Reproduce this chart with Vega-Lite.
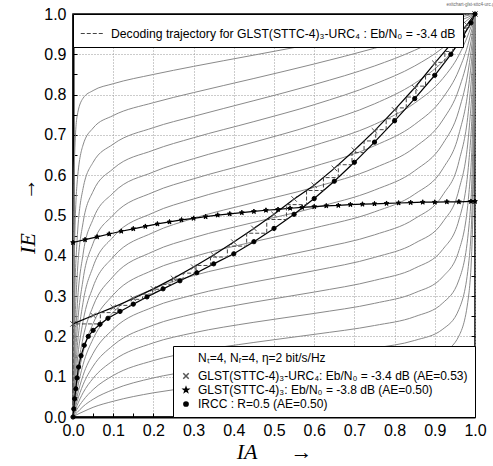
{
"$schema":"https://vega.github.io/schema/vega-lite/v6.json",
"width":402,"height":403,
"autosize":{"type":"none"},
"padding":{"left":73,"top":14,"right":18,"bottom":49},
"background":"white",
"title":{"text":"exitchart-glst-sttc4-urc.gle","fontSize":4.5,"color":"#666","anchor":"end","offset":0,"dx":12,"font":"Liberation Sans","fontWeight":"normal"},
"config":{
 "view":{"stroke":"black","strokeWidth":1.5},
 "axis":{"labelFont":"Liberation Sans","labelFontSize":16,"labelColor":"black","tickColor":"black","domainColor":"black","titleFont":"Liberation Serif","titleFontStyle":"italic","titleFontWeight":"normal","titleFontSize":22,"titleColor":"black"},
 "legend":{"labelFont":"Liberation Sans","titleFont":"Liberation Sans","labelColor":"black","titleColor":"black"}
},
"resolve":{"axis":{"x":"independent","y":"independent"}},
"datasets":{
"sub":[
{"c":1,"x":0,"y":0},{"c":1,"x":0.003,"y":0.614},{"c":1,"x":0.01,"y":0.745},{"c":1,"x":0.025,"y":0.791},{"c":1,"x":0.05,"y":0.81},{"c":1,"x":0.1,"y":0.827},{"c":1,"x":0.2,"y":0.85},{"c":1,"x":0.3,"y":0.87},{"c":1,"x":0.45,"y":0.898},{"c":1,"x":0.6,"y":0.926},{"c":1,"x":0.75,"y":0.953},{"c":1,"x":0.85,"y":0.972},{"c":1,"x":0.92,"y":0.985},{"c":1,"x":0.96,"y":0.992},{"c":1,"x":0.985,"y":0.997},{"c":1,"x":0.995,"y":0.999},{"c":1,"x":1,"y":1},
{"c":2,"x":0,"y":0},{"c":2,"x":0.003,"y":0.375},{"c":2,"x":0.01,"y":0.578},{"c":2,"x":0.025,"y":0.675},{"c":2,"x":0.05,"y":0.717},{"c":2,"x":0.1,"y":0.748},{"c":2,"x":0.2,"y":0.78},{"c":2,"x":0.3,"y":0.805},{"c":2,"x":0.45,"y":0.84},{"c":2,"x":0.6,"y":0.876},{"c":2,"x":0.75,"y":0.915},{"c":2,"x":0.85,"y":0.944},{"c":2,"x":0.92,"y":0.967},{"c":2,"x":0.96,"y":0.983},{"c":2,"x":0.985,"y":0.993},{"c":2,"x":0.995,"y":0.998},{"c":2,"x":1,"y":1},
{"c":3,"x":0,"y":0},{"c":3,"x":0.003,"y":0.233},{"c":3,"x":0.01,"y":0.437},{"c":3,"x":0.025,"y":0.567},{"c":3,"x":0.05,"y":0.632},{"c":3,"x":0.1,"y":0.677},{"c":3,"x":0.2,"y":0.718},{"c":3,"x":0.3,"y":0.746},{"c":3,"x":0.45,"y":0.785},{"c":3,"x":0.6,"y":0.825},{"c":3,"x":0.75,"y":0.871},{"c":3,"x":0.85,"y":0.91},{"c":3,"x":0.92,"y":0.944},{"c":3,"x":0.96,"y":0.969},{"c":3,"x":0.985,"y":0.988},{"c":3,"x":0.995,"y":0.996},{"c":3,"x":1,"y":1},
{"c":4,"x":0,"y":0},{"c":4,"x":0.003,"y":0.163},{"c":4,"x":0.01,"y":0.344},{"c":4,"x":0.025,"y":0.482},{"c":4,"x":0.05,"y":0.56},{"c":4,"x":0.1,"y":0.616},{"c":4,"x":0.2,"y":0.662},{"c":4,"x":0.3,"y":0.693},{"c":4,"x":0.45,"y":0.733},{"c":4,"x":0.6,"y":0.775},{"c":4,"x":0.75,"y":0.826},{"c":4,"x":0.85,"y":0.871},{"c":4,"x":0.92,"y":0.916},{"c":4,"x":0.96,"y":0.951},{"c":4,"x":0.985,"y":0.98},{"c":4,"x":0.995,"y":0.993},{"c":4,"x":1,"y":1},
{"c":5,"x":0,"y":0},{"c":5,"x":0.003,"y":0.114},{"c":5,"x":0.01,"y":0.266},{"c":5,"x":0.025,"y":0.404},{"c":5,"x":0.05,"y":0.491},{"c":5,"x":0.1,"y":0.556},{"c":5,"x":0.2,"y":0.608},{"c":5,"x":0.3,"y":0.641},{"c":5,"x":0.45,"y":0.682},{"c":5,"x":0.6,"y":0.725},{"c":5,"x":0.75,"y":0.777},{"c":5,"x":0.85,"y":0.828},{"c":5,"x":0.92,"y":0.882},{"c":5,"x":0.96,"y":0.928},{"c":5,"x":0.985,"y":0.969},{"c":5,"x":0.995,"y":0.989},{"c":5,"x":1,"y":1},
{"c":6,"x":0,"y":0},{"c":6,"x":0.003,"y":0.085},{"c":6,"x":0.01,"y":0.211},{"c":6,"x":0.025,"y":0.341},{"c":6,"x":0.05,"y":0.431},{"c":6,"x":0.1,"y":0.501},{"c":6,"x":0.2,"y":0.558},{"c":6,"x":0.3,"y":0.591},{"c":6,"x":0.45,"y":0.632},{"c":6,"x":0.6,"y":0.674},{"c":6,"x":0.75,"y":0.726},{"c":6,"x":0.85,"y":0.779},{"c":6,"x":0.92,"y":0.84},{"c":6,"x":0.96,"y":0.898},{"c":6,"x":0.985,"y":0.954},{"c":6,"x":0.995,"y":0.983},{"c":6,"x":1,"y":1},
{"c":7,"x":0,"y":0},{"c":7,"x":0.003,"y":0.064},{"c":7,"x":0.01,"y":0.166},{"c":7,"x":0.025,"y":0.284},{"c":7,"x":0.05,"y":0.373},{"c":7,"x":0.1,"y":0.447},{"c":7,"x":0.2,"y":0.507},{"c":7,"x":0.3,"y":0.541},{"c":7,"x":0.45,"y":0.582},{"c":7,"x":0.6,"y":0.622},{"c":7,"x":0.75,"y":0.673},{"c":7,"x":0.85,"y":0.726},{"c":7,"x":0.92,"y":0.792},{"c":7,"x":0.96,"y":0.861},{"c":7,"x":0.985,"y":0.933},{"c":7,"x":0.995,"y":0.975},{"c":7,"x":1,"y":1},
{"c":8,"x":0,"y":0},{"c":8,"x":0.003,"y":0.049},{"c":8,"x":0.01,"y":0.133},{"c":8,"x":0.025,"y":0.237},{"c":8,"x":0.05,"y":0.323},{"c":8,"x":0.1,"y":0.397},{"c":8,"x":0.2,"y":0.458},{"c":8,"x":0.3,"y":0.493},{"c":8,"x":0.45,"y":0.532},{"c":8,"x":0.6,"y":0.57},{"c":8,"x":0.75,"y":0.618},{"c":8,"x":0.85,"y":0.669},{"c":8,"x":0.92,"y":0.737},{"c":8,"x":0.96,"y":0.814},{"c":8,"x":0.985,"y":0.905},{"c":8,"x":0.995,"y":0.963},{"c":8,"x":1,"y":1},
{"c":9,"x":0,"y":0},{"c":9,"x":0.003,"y":0.038},{"c":9,"x":0.01,"y":0.105},{"c":9,"x":0.025,"y":0.196},{"c":9,"x":0.05,"y":0.275},{"c":9,"x":0.1,"y":0.349},{"c":9,"x":0.2,"y":0.411},{"c":9,"x":0.3,"y":0.445},{"c":9,"x":0.45,"y":0.483},{"c":9,"x":0.6,"y":0.519},{"c":9,"x":0.75,"y":0.563},{"c":9,"x":0.85,"y":0.611},{"c":9,"x":0.92,"y":0.678},{"c":9,"x":0.96,"y":0.761},{"c":9,"x":0.985,"y":0.871},{"c":9,"x":0.995,"y":0.948},{"c":9,"x":1,"y":1},
{"c":10,"x":0,"y":0},{"c":10,"x":0.003,"y":0.029},{"c":10,"x":0.01,"y":0.083},{"c":10,"x":0.025,"y":0.16},{"c":10,"x":0.05,"y":0.232},{"c":10,"x":0.1,"y":0.303},{"c":10,"x":0.2,"y":0.365},{"c":10,"x":0.3,"y":0.398},{"c":10,"x":0.45,"y":0.435},{"c":10,"x":0.6,"y":0.469},{"c":10,"x":0.75,"y":0.509},{"c":10,"x":0.85,"y":0.553},{"c":10,"x":0.92,"y":0.616},{"c":10,"x":0.96,"y":0.702},{"c":10,"x":0.985,"y":0.827},{"c":10,"x":0.995,"y":0.926},{"c":10,"x":1,"y":1},
{"c":11,"x":0,"y":0},{"c":11,"x":0.003,"y":0.022},{"c":11,"x":0.01,"y":0.065},{"c":11,"x":0.025,"y":0.13},{"c":11,"x":0.05,"y":0.194},{"c":11,"x":0.1,"y":0.26},{"c":11,"x":0.2,"y":0.318},{"c":11,"x":0.3,"y":0.351},{"c":11,"x":0.45,"y":0.385},{"c":11,"x":0.6,"y":0.416},{"c":11,"x":0.75,"y":0.452},{"c":11,"x":0.85,"y":0.492},{"c":11,"x":0.92,"y":0.551},{"c":11,"x":0.96,"y":0.634},{"c":11,"x":0.985,"y":0.773},{"c":11,"x":0.995,"y":0.897},{"c":11,"x":1,"y":1},
{"c":12,"x":0,"y":0},{"c":12,"x":0.003,"y":0.017},{"c":12,"x":0.01,"y":0.05},{"c":12,"x":0.025,"y":0.103},{"c":12,"x":0.05,"y":0.158},{"c":12,"x":0.1,"y":0.218},{"c":12,"x":0.2,"y":0.273},{"c":12,"x":0.3,"y":0.303},{"c":12,"x":0.45,"y":0.335},{"c":12,"x":0.6,"y":0.363},{"c":12,"x":0.75,"y":0.396},{"c":12,"x":0.85,"y":0.431},{"c":12,"x":0.92,"y":0.484},{"c":12,"x":0.96,"y":0.564},{"c":12,"x":0.985,"y":0.71},{"c":12,"x":0.995,"y":0.86},{"c":12,"x":1,"y":1},
{"c":13,"x":0,"y":0},{"c":13,"x":0.003,"y":0.013},{"c":13,"x":0.01,"y":0.038},{"c":13,"x":0.025,"y":0.08},{"c":13,"x":0.05,"y":0.126},{"c":13,"x":0.1,"y":0.178},{"c":13,"x":0.2,"y":0.228},{"c":13,"x":0.3,"y":0.256},{"c":13,"x":0.45,"y":0.285},{"c":13,"x":0.6,"y":0.31},{"c":13,"x":0.75,"y":0.339},{"c":13,"x":0.85,"y":0.369},{"c":13,"x":0.92,"y":0.416},{"c":13,"x":0.96,"y":0.489},{"c":13,"x":0.985,"y":0.637},{"c":13,"x":0.995,"y":0.811},{"c":13,"x":1,"y":1},
{"c":14,"x":0,"y":0},{"c":14,"x":0.003,"y":0.009},{"c":14,"x":0.01,"y":0.028},{"c":14,"x":0.025,"y":0.06},{"c":14,"x":0.05,"y":0.096},{"c":14,"x":0.1,"y":0.14},{"c":14,"x":0.2,"y":0.184},{"c":14,"x":0.3,"y":0.209},{"c":14,"x":0.45,"y":0.235},{"c":14,"x":0.6,"y":0.257},{"c":14,"x":0.75,"y":0.282},{"c":14,"x":0.85,"y":0.308},{"c":14,"x":0.92,"y":0.348},{"c":14,"x":0.96,"y":0.413},{"c":14,"x":0.985,"y":0.557},{"c":14,"x":0.995,"y":0.751},{"c":14,"x":1,"y":1},
{"c":15,"x":0,"y":0},{"c":15,"x":0.003,"y":0.006},{"c":15,"x":0.01,"y":0.019},{"c":15,"x":0.025,"y":0.041},{"c":15,"x":0.05,"y":0.068},{"c":15,"x":0.1,"y":0.103},{"c":15,"x":0.2,"y":0.14},{"c":15,"x":0.3,"y":0.162},{"c":15,"x":0.45,"y":0.185},{"c":15,"x":0.6,"y":0.205},{"c":15,"x":0.75,"y":0.227},{"c":15,"x":0.85,"y":0.249},{"c":15,"x":0.92,"y":0.283},{"c":15,"x":0.96,"y":0.34},{"c":15,"x":0.985,"y":0.474},{"c":15,"x":0.995,"y":0.68},{"c":15,"x":1,"y":1},
{"c":16,"x":0,"y":0},{"c":16,"x":0.003,"y":0.004},{"c":16,"x":0.01,"y":0.011},{"c":16,"x":0.025,"y":0.026},{"c":16,"x":0.05,"y":0.044},{"c":16,"x":0.1,"y":0.068},{"c":16,"x":0.2,"y":0.097},{"c":16,"x":0.3,"y":0.115},{"c":16,"x":0.45,"y":0.135},{"c":16,"x":0.6,"y":0.152},{"c":16,"x":0.75,"y":0.171},{"c":16,"x":0.85,"y":0.19},{"c":16,"x":0.92,"y":0.218},{"c":16,"x":0.96,"y":0.267},{"c":16,"x":0.985,"y":0.388},{"c":16,"x":0.995,"y":0.598},{"c":16,"x":1,"y":1},
{"c":17,"x":0,"y":0},{"c":17,"x":0.003,"y":0.002},{"c":17,"x":0.01,"y":0.006},{"c":17,"x":0.025,"y":0.013},{"c":17,"x":0.05,"y":0.024},{"c":17,"x":0.1,"y":0.039},{"c":17,"x":0.2,"y":0.06},{"c":17,"x":0.3,"y":0.074},{"c":17,"x":0.45,"y":0.09},{"c":17,"x":0.6,"y":0.105},{"c":17,"x":0.75,"y":0.121},{"c":17,"x":0.85,"y":0.137},{"c":17,"x":0.92,"y":0.16},{"c":17,"x":0.96,"y":0.201},{"c":17,"x":0.985,"y":0.308},{"c":17,"x":0.995,"y":0.513},{"c":17,"x":1,"y":1}
],
"pts":[
{"s":"urc","x":0,"y":0.231},{"s":"urc","x":0.05,"y":0.252},{"s":"urc","x":0.1,"y":0.272},{"s":"urc","x":0.15,"y":0.294},{"s":"urc","x":0.2,"y":0.318},{"s":"urc","x":0.25,"y":0.344},{"s":"urc","x":0.3,"y":0.372},{"s":"urc","x":0.35,"y":0.402},{"s":"urc","x":0.4,"y":0.434},{"s":"urc","x":0.45,"y":0.468},{"s":"urc","x":0.5,"y":0.503},{"s":"urc","x":0.55,"y":0.541},{"s":"urc","x":0.6,"y":0.575},{"s":"urc","x":0.65,"y":0.617},{"s":"urc","x":0.7,"y":0.662},{"s":"urc","x":0.75,"y":0.71},{"s":"urc","x":0.8,"y":0.762},{"s":"urc","x":0.85,"y":0.817},{"s":"urc","x":0.9,"y":0.878},{"s":"urc","x":0.95,"y":0.937},{"s":"urc","x":0.98,"y":0.973},{"s":"urc","x":1,"y":1},
{"s":"glst","x":0,"y":0.433},{"s":"glst","x":0.03,"y":0.44},{"s":"glst","x":0.06,"y":0.447},{"s":"glst","x":0.09,"y":0.454},{"s":"glst","x":0.12,"y":0.461},{"s":"glst","x":0.15,"y":0.467},{"s":"glst","x":0.18,"y":0.473},{"s":"glst","x":0.21,"y":0.479},{"s":"glst","x":0.24,"y":0.484},{"s":"glst","x":0.27,"y":0.489},{"s":"glst","x":0.3,"y":0.493},{"s":"glst","x":0.33,"y":0.497},{"s":"glst","x":0.36,"y":0.501},{"s":"glst","x":0.39,"y":0.504},{"s":"glst","x":0.42,"y":0.507},{"s":"glst","x":0.45,"y":0.51},{"s":"glst","x":0.48,"y":0.513},{"s":"glst","x":0.51,"y":0.515},{"s":"glst","x":0.54,"y":0.518},{"s":"glst","x":0.57,"y":0.52},{"s":"glst","x":0.6,"y":0.522},{"s":"glst","x":0.63,"y":0.524},{"s":"glst","x":0.66,"y":0.525},{"s":"glst","x":0.69,"y":0.527},{"s":"glst","x":0.72,"y":0.528},{"s":"glst","x":0.75,"y":0.529},{"s":"glst","x":0.78,"y":0.53},{"s":"glst","x":0.81,"y":0.531},{"s":"glst","x":0.84,"y":0.532},{"s":"glst","x":0.87,"y":0.533},{"s":"glst","x":0.9,"y":0.533},{"s":"glst","x":0.93,"y":0.534},{"s":"glst","x":0.96,"y":0.534},{"s":"glst","x":0.99,"y":0.535},{"s":"glst","x":1,"y":0.535},
{"s":"ircc","x":0,"y":0},{"s":"ircc","x":0.002,"y":0.02},{"s":"ircc","x":0.004,"y":0.045},{"s":"ircc","x":0.007,"y":0.07},{"s":"ircc","x":0.01,"y":0.097},{"s":"ircc","x":0.014,"y":0.124},{"s":"ircc","x":0.02,"y":0.152},{"s":"ircc","x":0.028,"y":0.178},{"s":"ircc","x":0.038,"y":0.2},{"s":"ircc","x":0.05,"y":0.215},{"s":"ircc","x":0.067,"y":0.23},{"s":"ircc","x":0.087,"y":0.245},{"s":"ircc","x":0.117,"y":0.262},{"s":"ircc","x":0.15,"y":0.28},{"s":"ircc","x":0.184,"y":0.298},{"s":"ircc","x":0.224,"y":0.318},{"s":"ircc","x":0.266,"y":0.338},{"s":"ircc","x":0.308,"y":0.358},{"s":"ircc","x":0.35,"y":0.38},{"s":"ircc","x":0.4,"y":0.405},{"s":"ircc","x":0.45,"y":0.435},{"s":"ircc","x":0.5,"y":0.468},{"s":"ircc","x":0.55,"y":0.503},{"s":"ircc","x":0.6,"y":0.542},{"s":"ircc","x":0.65,"y":0.585},{"s":"ircc","x":0.7,"y":0.632},{"s":"ircc","x":0.75,"y":0.682},{"s":"ircc","x":0.8,"y":0.735},{"s":"ircc","x":0.85,"y":0.79},{"s":"ircc","x":0.9,"y":0.848},{"s":"ircc","x":0.94,"y":0.9},{"s":"ircc","x":0.97,"y":0.945},{"s":"ircc","x":0.99,"y":0.978},{"s":"ircc","x":1,"y":1}
],
"traj":[
{"k":"traj","i":0,"x":0,"y":0},{"k":"traj","i":1,"x":0,"y":0.231},{"k":"traj","i":2,"x":0.068,"y":0.231},{"k":"traj","i":3,"x":0.068,"y":0.259},{"k":"traj","i":4,"x":0.112,"y":0.259},{"k":"traj","i":5,"x":0.112,"y":0.277},{"k":"traj","i":6,"x":0.145,"y":0.277},{"k":"traj","i":7,"x":0.145,"y":0.292},{"k":"traj","i":8,"x":0.173,"y":0.292},{"k":"traj","i":9,"x":0.173,"y":0.305},{"k":"traj","i":10,"x":0.198,"y":0.305},{"k":"traj","i":11,"x":0.198,"y":0.317},{"k":"traj","i":12,"x":0.222,"y":0.317},{"k":"traj","i":13,"x":0.222,"y":0.329},{"k":"traj","i":14,"x":0.247,"y":0.329},{"k":"traj","i":15,"x":0.247,"y":0.342},{"k":"traj","i":16,"x":0.274,"y":0.342},{"k":"traj","i":17,"x":0.274,"y":0.357},{"k":"traj","i":18,"x":0.306,"y":0.357},{"k":"traj","i":19,"x":0.306,"y":0.376},{"k":"traj","i":20,"x":0.342,"y":0.376},{"k":"traj","i":21,"x":0.342,"y":0.397},{"k":"traj","i":22,"x":0.384,"y":0.397},{"k":"traj","i":23,"x":0.384,"y":0.424},{"k":"traj","i":24,"x":0.432,"y":0.424},{"k":"traj","i":25,"x":0.432,"y":0.456},{"k":"traj","i":26,"x":0.482,"y":0.456},{"k":"traj","i":27,"x":0.482,"y":0.49},{"k":"traj","i":28,"x":0.531,"y":0.49},{"k":"traj","i":29,"x":0.531,"y":0.527},{"k":"traj","i":30,"x":0.581,"y":0.527},{"k":"traj","i":31,"x":0.581,"y":0.562},{"k":"traj","i":32,"x":0.623,"y":0.562},{"k":"traj","i":33,"x":0.623,"y":0.594},{"k":"traj","i":34,"x":0.66,"y":0.594},{"k":"traj","i":35,"x":0.66,"y":0.626},{"k":"traj","i":36,"x":0.694,"y":0.626},{"k":"traj","i":37,"x":0.694,"y":0.656},{"k":"traj","i":38,"x":0.724,"y":0.656},{"k":"traj","i":39,"x":0.724,"y":0.685},{"k":"traj","i":40,"x":0.753,"y":0.685},{"k":"traj","i":41,"x":0.753,"y":0.713},{"k":"traj","i":42,"x":0.779,"y":0.713},{"k":"traj","i":43,"x":0.779,"y":0.74},{"k":"traj","i":44,"x":0.805,"y":0.74},{"k":"traj","i":45,"x":0.805,"y":0.767},{"k":"traj","i":46,"x":0.829,"y":0.767},{"k":"traj","i":47,"x":0.829,"y":0.794},{"k":"traj","i":48,"x":0.853,"y":0.794},{"k":"traj","i":49,"x":0.853,"y":0.821},{"k":"traj","i":50,"x":0.877,"y":0.821},{"k":"traj","i":51,"x":0.877,"y":0.85},{"k":"traj","i":52,"x":0.902,"y":0.85},{"k":"traj","i":53,"x":0.902,"y":0.88},{"k":"traj","i":54,"x":0.925,"y":0.88},{"k":"traj","i":55,"x":0.925,"y":0.907},{"k":"traj","i":56,"x":0.945,"y":0.907},{"k":"traj","i":57,"x":0.945,"y":0.931},{"k":"traj","i":58,"x":0.961,"y":0.931},{"k":"traj","i":59,"x":0.961,"y":0.95},{"k":"traj","i":60,"x":0.973,"y":0.95},{"k":"traj","i":61,"x":0.973,"y":0.965},{"k":"traj","i":62,"x":0.982,"y":0.965},{"k":"traj","i":63,"x":0.982,"y":0.976},{"k":"traj","i":64,"x":0.989,"y":0.976},{"k":"traj","i":65,"x":0.989,"y":0.985},{"k":"traj","i":66,"x":0.993,"y":0.985},{"k":"traj","i":67,"x":0.993,"y":0.991},{"k":"traj","i":68,"x":0.996,"y":0.991}
]
},
"layer":[
{"data":{"name":"sub"},
 "mark":{"type":"line","interpolate":"monotone","color":"#8a8a8a","strokeWidth":1},
 "encoding":{
  "x":{"field":"x","type":"quantitative","scale":{"domain":[0,1],"nice":false,"zero":false},
   "axis":{"orient":"bottom","values":[0,0.05,0.1,0.15,0.2,0.25,0.3,0.35,0.4,0.45,0.5,0.55,0.6,0.65,0.7,0.75,0.8,0.85,0.9,0.95,1],
    "labelExpr":"round(datum.value*20)%2==0 ? format(datum.value,'.1f') : ''","labelFlush":false,"labelOverlap":false,"labelBound":false,
    "grid":true,"gridDash":[1,2],"gridColor":"#999999","gridOpacity":{"condition":{"test":"round(datum.value*20)%2==1","value":0},"value":1},
    "tickSize":-4,"tickWidth":1,"labelPadding":9,"domainWidth":2,"title":"IA\u2003\u2002→","titlePadding":3}},
  "y":{"field":"y","type":"quantitative","scale":{"domain":[0,1],"nice":false,"zero":false},
   "axis":{"orient":"left","values":[0,0.05,0.1,0.15,0.2,0.25,0.3,0.35,0.4,0.45,0.5,0.55,0.6,0.65,0.7,0.75,0.8,0.85,0.9,0.95,1],
    "labelExpr":"round(datum.value*20)%2==0 ? format(datum.value,'.1f') : ''","labelFlush":false,"labelOverlap":false,"labelBound":false,
    "grid":true,"gridDash":[1,2],"gridColor":"#999999","gridOpacity":{"condition":{"test":"round(datum.value*20)%2==1","value":0},"value":1},
    "tickSize":-4,"tickWidth":1,"labelPadding":11,"domainWidth":2,"title":"IE\u2003\u2002→","titlePadding":4}},
  "detail":{"field":"c","type":"nominal"}
 }},
{"data":{"name":"pts"},
 "transform":[{"filter":"datum.s=='glst'"}],
 "mark":{"type":"line","color":"black","strokeWidth":1.2},
 "encoding":{
  "x":{"field":"x","type":"quantitative","axis":{"orient":"top","values":[0,0.05,0.1,0.15,0.2,0.25,0.3,0.35,0.4,0.45,0.5,0.55,0.6,0.65,0.7,0.75,0.8,0.85,0.9,0.95,1],"labels":false,"grid":false,"domain":false,"tickSize":-4,"title":null}},
  "y":{"field":"y","type":"quantitative","axis":{"orient":"right","values":[0,0.05,0.1,0.15,0.2,0.25,0.3,0.35,0.4,0.45,0.5,0.55,0.6,0.65,0.7,0.75,0.8,0.85,0.9,0.95,1],"labels":false,"grid":false,"domain":false,"tickSize":-4,"title":null}}
 }},
{"data":{"name":"pts"},
 "transform":[{"filter":"datum.s=='urc'"}],
 "mark":{"type":"line","color":"black","strokeWidth":1.2},
 "encoding":{"x":{"field":"x","type":"quantitative","axis":null},"y":{"field":"y","type":"quantitative","axis":null}}},
{"data":{"name":"pts"},
 "transform":[{"filter":"datum.s=='ircc'"}],
 "mark":{"type":"line","color":"black","strokeWidth":1.2},
 "encoding":{"x":{"field":"x","type":"quantitative","axis":null},"y":{"field":"y","type":"quantitative","axis":null}}},
{"data":{"name":"traj"},
 "mark":{"type":"line","color":"#444444","strokeWidth":1},
 "encoding":{
  "x":{"field":"x","type":"quantitative","axis":null},
  "y":{"field":"y","type":"quantitative","axis":null},
  "order":{"field":"i","type":"quantitative"},
  "strokeDash":{"field":"k","type":"nominal","scale":{"domain":["traj"],"range":[[4,2]]},
   "legend":{"orient":"top-left","offset":0,"title":null,"labelExpr":"'Decoding trajectory for GLST(STTC-4)₃-URC₄ : Eb/N₀ = -3.4 dB'","labelFontSize":12.2,"labelLimit":0,"symbolType":"stroke","symbolSize":550,"symbolStrokeWidth":1,"symbolStrokeColor":"#444444","padding":7,"fillColor":"white","strokeColor":"black","cornerRadius":0,"zindex":1,"labelOffset":6}}
 }},
{"data":{"name":"pts"},
 "mark":{"type":"point","strokeWidth":1,"opacity":1},
 "encoding":{
  "x":{"field":"x","type":"quantitative","axis":null},
  "y":{"field":"y","type":"quantitative","axis":null},
  "shape":{"field":"s","type":"nominal","scale":{"domain":["urc","glst","ircc"],"range":["M-1,-1L1,1M-1,1L1,-1","M0,-1L0.24,-0.33L0.95,-0.31L0.38,0.12L0.59,0.81L0,0.4L-0.59,0.81L-0.38,0.12L-0.95,-0.31L-0.24,-0.33Z","circle"]},
   "legend":{"orient":"bottom-right","offset":0,"title":"\u2800\u2800Nₜ=4, Nᵣ=4, η=2 bit/s/Hz","titleFontSize":12,"titleFontWeight":"normal","titlePadding":5,
    "labelExpr":"datum.value=='urc' ? 'GLST(STTC-4)₃-URC₄: Eb/N₀ = -3.4 dB (AE=0.53)' : datum.value=='glst' ? 'GLST(STTC-4)₃: Eb/N₀ = -3.8 dB (AE=0.50)' : 'IRCC : R=0.5 (AE=0.50)'",
    "labelFontSize":12,"labelLimit":0,"labelOffset":6,"padding":7,"rowPadding":2,"symbolSize":24,"fillColor":"white","strokeColor":"black","cornerRadius":0,"zindex":1}},
  "size":{"field":"s","type":"nominal","scale":{"domain":["urc","glst","ircc"],"range":[30,18,11]}},
  "fill":{"field":"s","type":"nominal","scale":{"domain":["urc","glst","ircc"],"range":["transparent","black","black"]}},
  "stroke":{"field":"s","type":"nominal","scale":{"domain":["urc","glst","ircc"],"range":["#555555","black","black"]}}
 }}
]
}
